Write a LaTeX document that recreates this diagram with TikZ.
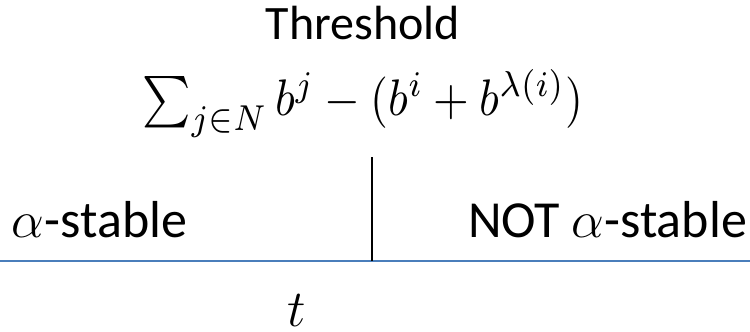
\RequirePackage{fix-cm}
\documentclass[tikz,border=0pt]{standalone}
\usepackage{fontspec}
\setmainfont{Carlito}
\definecolor{axisblue}{HTML}{4A7EBB}
\tikzset{
  lbl/.style={inner sep=0pt, outer sep=0pt, font=\fontsize{48}{58}\selectfont},
  small/.style={inner sep=0pt, outer sep=0pt, font=\fontsize{52}{62}\selectfont},
}
\begin{document}
\begin{tikzpicture}[x=1pt,y=-1pt]
\useasboundingbox (0,0) rectangle (750,332);
\node[lbl, anchor=base] (thr) at (363,39) {Threshold};
\node[inner sep=0pt, outer sep=0pt, anchor=base] (form) at (363,115) {\scalebox{1}[1.12]{\resizebox{440pt}{!}{$\sum_{j\in N} b^j - (b^i + b^{\lambda(i)})$}}};
\node[small, anchor=base west] (st) at (12,237) {$\alpha$-stable};
\node[small, anchor=base east] (nst) at (747,237) {NOT $\alpha$-stable};
\node[small, anchor=base] (t) at (297,326) {$t$};
\coordinate (vtop) at (372,157);
\coordinate (vbot) at (372,261);
\coordinate (hl) at (0,261);
\coordinate (hr) at (750,261);
\draw[axisblue, line width=2.2pt] (hl) -- (hr);
\draw[black, line width=1.3pt] (vtop) -- (vbot);
\end{tikzpicture}
\end{document}
